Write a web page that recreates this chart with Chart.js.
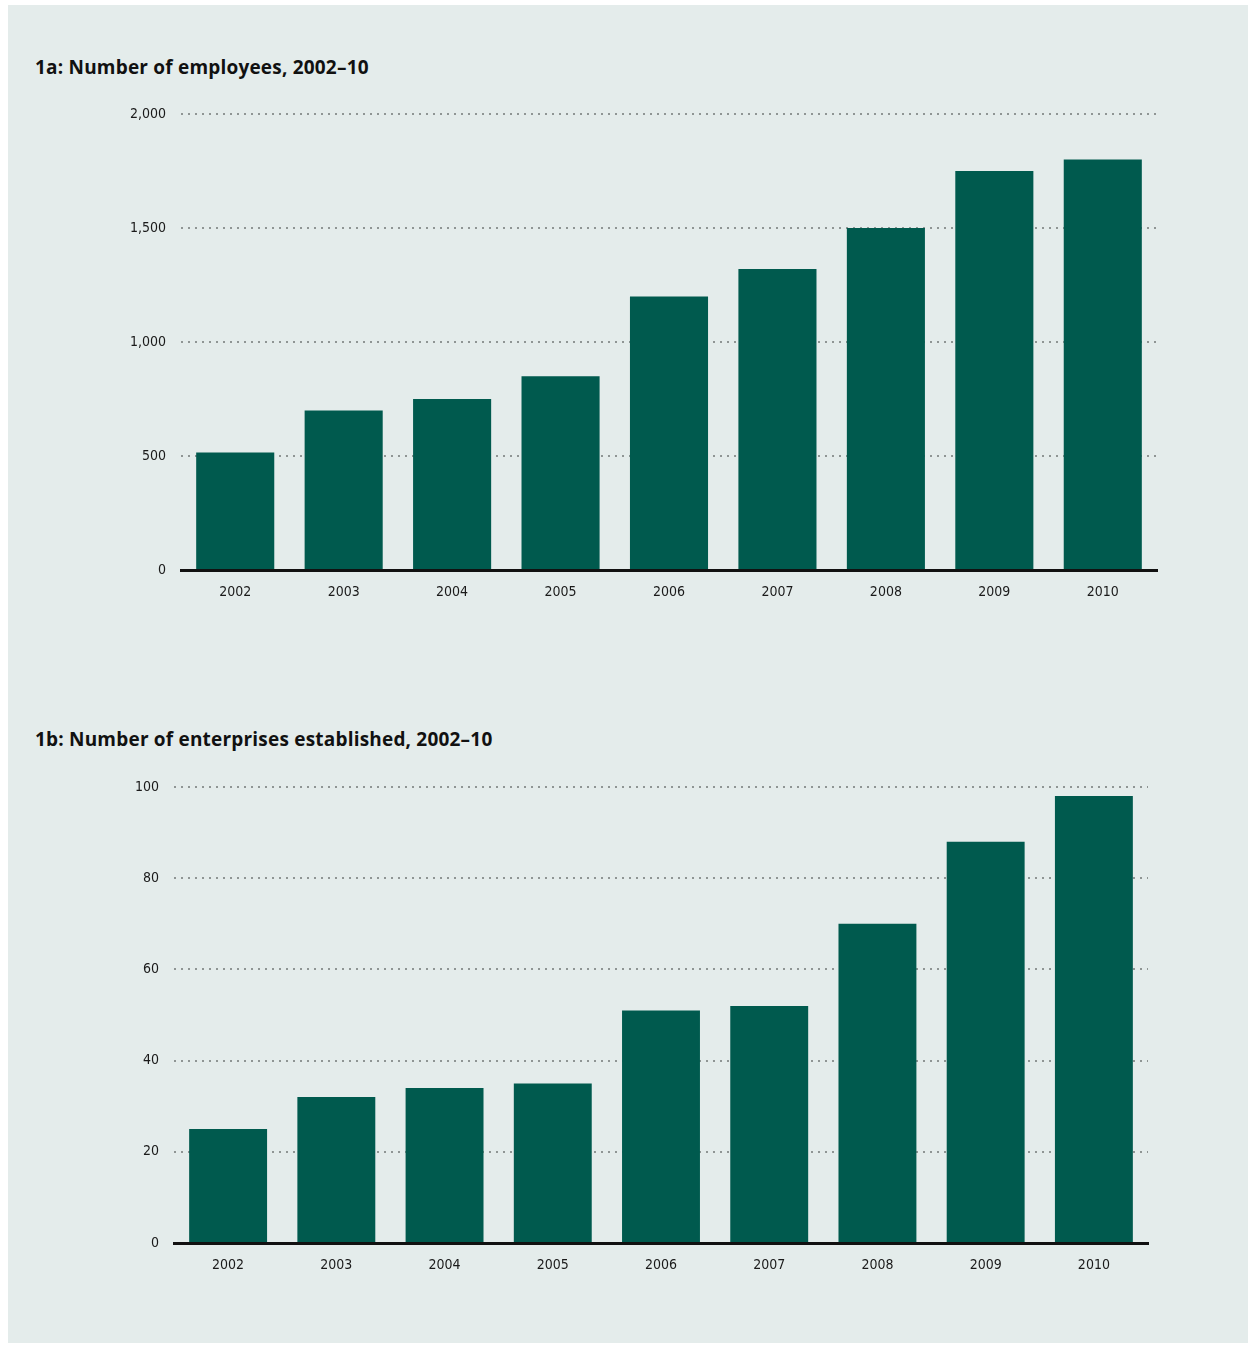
<!DOCTYPE html>
<html>
<head>
<meta charset="utf-8">
<script src="https://cdn.jsdelivr.net/npm/chart.js@4.4.1/dist/chart.umd.min.js"></script>
<style>
  html, body { margin: 0; padding: 0; background: #ffffff; }
  body { width: 1251px; height: 1345px; position: relative; overflow: hidden; }
  #panel { position: absolute; left: 8px; top: 5px; width: 1240px; height: 1338px; background: #e4eceb; }
  .title { position: absolute; left: 35px; font-family: "Open Sans", "Noto Sans", sans-serif;
           font-weight: 700; font-size: 19px; letter-spacing: 0.2px; color: #111; white-space: nowrap; }
  .box { position: absolute; left: 0; width: 1251px; }
</style>
</head>
<body>
<div id="panel"></div>
<div class="title" style="top:54px">1a: Number of employees, 2002–10</div>
<div class="title" style="top:726px">1b: Number of enterprises established, 2002–10</div>
<div class="box" style="top:90px;height:530px"><canvas id="c1"></canvas></div>
<div class="box" style="top:760px;height:533px"><canvas id="c2"></canvas></div>
<script>
"use strict";

// Data

var YEARS = ["2002", "2003", "2004", "2005", "2006", "2007", "2008", "2009", "2010"];
var EMPLOYEES = [515, 700, 750, 850, 1200, 1320, 1500, 1750, 1800];
var ENTERPRISES = [25, 32, 34, 35, 51, 52, 70, 88, 98];
var EMPLOYEE_TICKS = [0, 500, 1000, 1500, 2000];
var ENTERPRISE_TICKS = [0, 20, 40, 60, 80, 100];

// Style

var BAR_COLOR = "#005a4e",
	TEXT_COLOR = "#1a1a1a",
	DOT_COLOR = "#8f9594",
	TICK_FONT = { family: "'DejaVu Sans Condensed', sans-serif", size: 14 };

function makeChart(id, values, ticks, left, right, top) {
	var max = ticks[ticks.length - 1];

	return new Chart(document.getElementById(id), {
		type: "bar",
		data: {
			labels: YEARS,
			datasets: [{
				data: values,
				backgroundColor: BAR_COLOR,
				barPercentage: 0.72,
				categoryPercentage: 1
			}]
		},
		options: {
			responsive: true,
			maintainAspectRatio: false,
			animation: false,
			layout: { padding: { left: 0, right: right, top: top, bottom: 10 } },
			plugins: { legend: { display: false }, tooltip: { enabled: false } },
			scales: {
				x: {
					grid: { display: false, drawTicks: false },
					border: { display: true, color: "#111", width: 3 },
					ticks: { color: TEXT_COLOR, font: TICK_FONT, padding: 14 },
					afterFit: function (scale) { scale.height = 40; }
				},
				y: {
					min: 0,
					max: max,
					afterBuildTicks: function (scale) {
						scale.ticks = ticks.map(function (v) { return { value: v }; });
					},
					grid: {
						drawTicks: false,
						lineWidth: 2,
						color: function (ctx) {
							return ctx.tick && ctx.tick.value === 0 ? "rgba(0,0,0,0)" : DOT_COLOR;
						}
					},
					border: { display: false, dash: [2, 5] },
					ticks: {
						color: TEXT_COLOR,
						font: TICK_FONT,
						padding: 15,
						callback: function (v) { return v.toLocaleString("en-US"); }
					},
					afterFit: function (scale) { scale.width = left; }
				}
			}
		}
	});
}

makeChart("c1", EMPLOYEES, EMPLOYEE_TICKS, 181, 94, 24);
makeChart("c2", ENTERPRISES, ENTERPRISE_TICKS, 174, 103, 27);
</script>
</body>
</html>
